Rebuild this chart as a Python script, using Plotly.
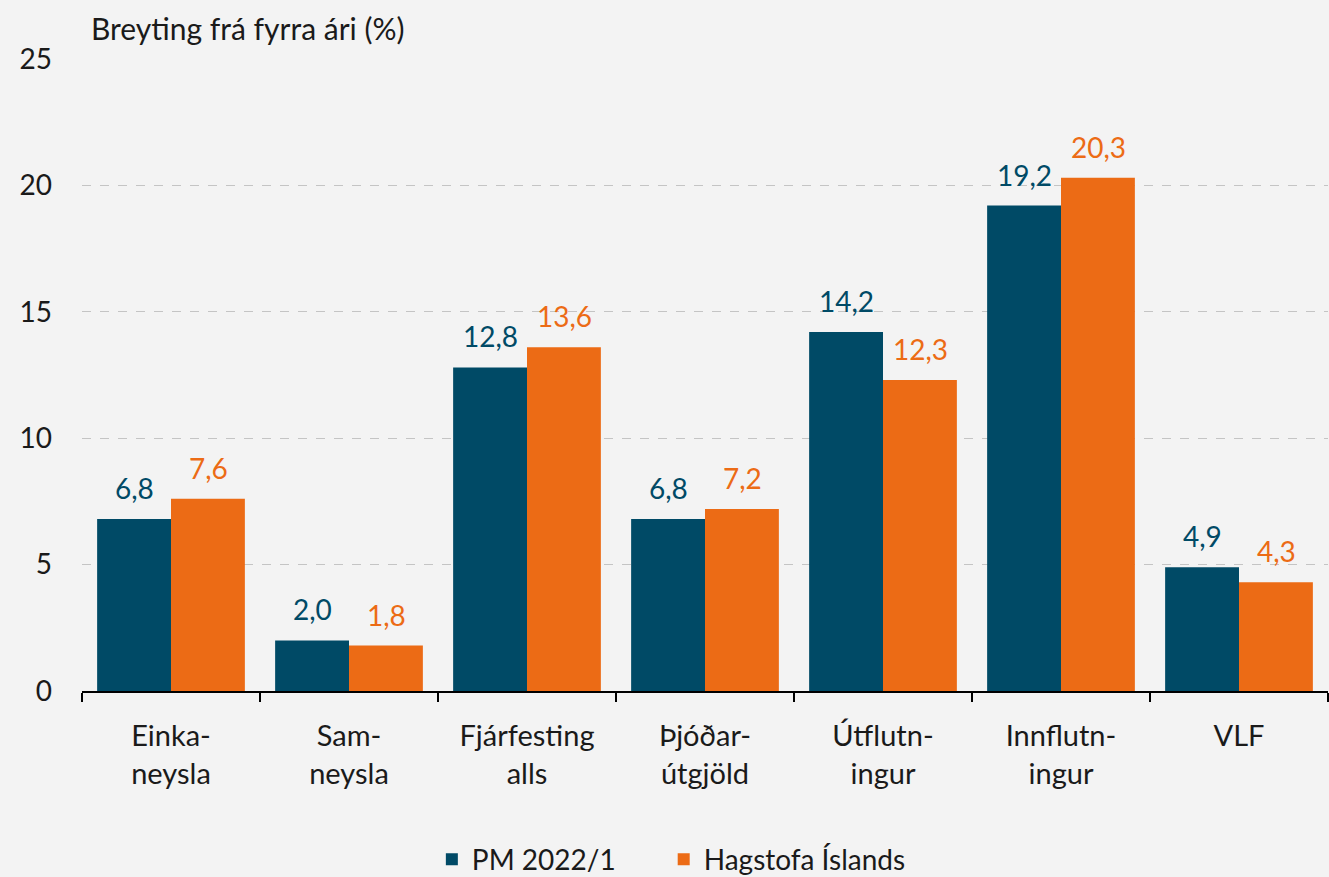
import plotly.graph_objects as go

categories = ["Einka-<br>neysla", "Sam-<br>neysla", "Fjárfesting<br>alls", "Þjóðar-<br>útgjöld",
              "Útflutn-<br>ingur", "Innflutn-<br>ingur", "VLF<br> "]
pm_values = [6.8, 2.0, 12.8, 6.8, 14.2, 19.2, 4.9]
hagstofa_values = [7.6, 1.8, 13.6, 7.2, 12.3, 20.3, 4.3]
series_names = ["PM 2022/1", "Hagstofa Íslands"]
y_ticks = [0, 5, 10, 15, 20, 25]

TEAL = "#004A66"
ORANGE = "#EC6B15"
FONT = "Lato"
PAD = "\u00a0" * 6

def fmt(v):
    return f"{v:.1f}".replace(".", ",")

fig = go.Figure()
series = [(series_names[0] + PAD, pm_values, TEAL, -37), (series_names[1], hagstofa_values, ORANGE, 37)]
annotations = []
for name, vals, col, shift in series:
    fig.add_trace(go.Bar(x=categories, y=vals, name=name, marker_color=col, marker_line_width=0))
    for c, v in zip(categories, vals):
        annotations.append(dict(x=c, y=v, xref="x", yref="y", text=fmt(v), showarrow=False,
                                xshift=shift, yshift=12, yanchor="bottom", xanchor="center",
                                font=dict(color=col, size=28, family=FONT)))

annotations.append(dict(text="Breyting frá fyrra ári (%)", xref="paper", yref="paper",
                        x=0.006, y=1.018, xanchor="left", yanchor="bottom", showarrow=False,
                        font=dict(size=30)))

fig.update_layout(
    width=1329, height=877,
    paper_bgcolor="#F3F3F3", plot_bgcolor="#F3F3F3",
    margin=dict(l=82, r=1, t=59, b=186),
    barmode="group", bargap=0.17, bargroupgap=0,
    font=dict(family=FONT, size=28, color="#1a1a1a"),
    showlegend=True,
    legend=dict(orientation="h", x=0.473, xanchor="center", yref="container", y=0.02,
                yanchor="middle", font=dict(size=28), bgcolor="rgba(0,0,0,0)"),
    annotations=annotations,
)
fig.update_xaxes(showline=True, linecolor="black", linewidth=2, ticks="outside",
                 tickson="boundaries", ticklen=9, tickwidth=2, tickcolor="black",
                 showgrid=False, tickfont=dict(size=29), ticklabelstandoff=18)
fig.update_yaxes(range=[0, 25], tickvals=y_ticks, showgrid=True, gridcolor="#C4C4C4",
                 griddash="dash", gridwidth=1, zeroline=False, showline=False,
                 ticklabelstandoff=29, tickfont=dict(size=28))

fig.write_html("out.html", config={"displayModeBar": False},
               post_script="document.body.style.margin='0';")
